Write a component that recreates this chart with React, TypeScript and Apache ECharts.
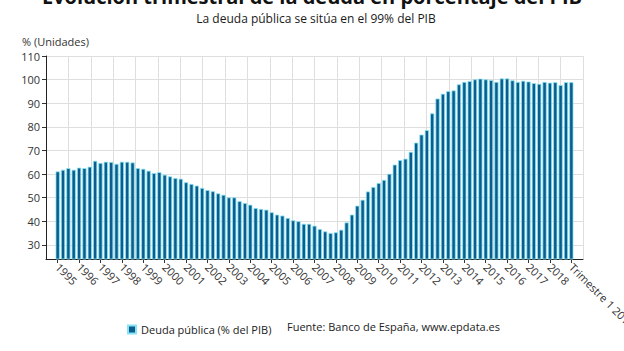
import { useEffect, useRef } from "react";
import * as echarts from "echarts";

const titleText = "Evolución trimestral de la deuda en porcentaje del PIB";
const subtitleText = "La deuda pública se sitúa en el 99% del PIB";
const unitText = "% (Unidades)";
const sourceText = "Fuente: Banco de España, www.epdata.es";
const seriesName = "Deuda pública (% del PIB)";

const yearLabels = [
  "1995", "1996", "1997", "1998", "1999", "2000", "2001", "2002",
  "2003", "2004", "2005", "2006", "2007", "2008", "2009", "2010",
  "2011", "2012", "2013", "2014", "2015", "2016", "2017", "2018",
];
const quarterNames = ["T1", "T2", "T3", "T4"];
const lastCategory = "T1 2019";
const lastPeriodLabel = "Trimestre 1 2019";

const debtValues = [
  61.1, 61.8, 62.5, 61.8, 62.7, 62.5, 63.1, 65.6, 64.7, 65.2, 65.1, 64.3,
  65.2, 65.2, 64.9, 62.5, 62.2, 61.4, 60.4, 60.8, 59.7, 59.0, 58.3, 58.0,
  56.5, 55.8, 55.1, 54.1, 53.2, 52.7, 51.8, 51.2, 50.1, 50.1, 48.5, 47.7,
  47.0, 45.6, 45.2, 44.9, 43.8, 42.8, 42.4, 41.4, 40.4, 40.0, 38.9, 38.9,
  38.1, 36.7, 35.7, 35.0, 35.3, 36.4, 39.5, 42.8, 46.6, 49.1, 52.6, 54.5,
  56.2, 57.5, 60.1, 64.0, 65.9, 66.5, 69.4, 73.3, 76.7, 78.6, 85.7, 92.0,
  94.0, 95.1, 95.4, 98.0, 99.0, 99.4, 100.1, 100.4, 100.1, 99.8, 99.0, 100.5,
  100.5, 99.7, 99.0, 99.5, 99.2, 98.5, 98.2, 99.0, 98.7, 98.9, 97.7, 98.9,
  98.9,
];

const yTickValues = [30, 40, 50, 60, 70, 80, 90, 100, 110];
const yMin = 24;
const yMax = 110;
const verticalDivisions = 24;

const categories: string[] = [];
yearLabels.forEach((y) => quarterNames.forEach((q) => categories.push(`${q} ${y}`)));
categories.push(lastCategory);

const FONT = "'Open Sans', 'Noto Sans', sans-serif";

export default function App() {
  const ref = useRef<HTMLDivElement>(null);
  useEffect(() => {
    if (!ref.current) return;
    const chart = echarts.init(ref.current, undefined, { renderer: "svg" });
    const labelFor = (_v: string, i: number) => {
      if (i === categories.length - 1) return lastPeriodLabel;
      return yearLabels[Math.floor(i / 4)] ?? "";
    };
    chart.setOption({
      animation: false,
      backgroundColor: "#ffffff",
      textStyle: { fontFamily: FONT },
      grid: [
        { left: 55, right: 50, top: 56, bottom: 92, containLabel: false, outerBoundsMode: "none" },
        { left: 46, right: 41, top: 56, bottom: 92, containLabel: false, outerBoundsMode: "none" },
      ],
      xAxis: [
        {
          gridIndex: 0,
          type: "category",
          data: categories,
          boundaryGap: true,
          axisLine: { show: false },
          axisTick: {
            show: true,
            interval: 3,
            alignWithLabel: true,
            length: 4,
            lineStyle: { color: "#333" },
          },
          axisLabel: {
            interval: 3,
            rotate: -45,
            margin: 6,
            fontSize: 11,
            color: "#333",
            fontFamily: FONT,
            formatter: labelFor,
          },
          splitLine: { show: false },
        },
        {
          gridIndex: 1,
          type: "value",
          min: 0,
          max: verticalDivisions,
          interval: 1,
          axisLine: { show: true, lineStyle: { color: "#222", width: 1 } },
          axisTick: { show: false },
          axisLabel: { show: false },
          splitLine: { show: true, lineStyle: { color: "#dedede", width: 1 } },
        },
      ],
      yAxis: [
        { gridIndex: 0, type: "value", min: yMin, max: yMax, show: false },
        {
          gridIndex: 1,
          type: "value",
          min: yMin,
          max: yMax,
          axisLine: { show: true, lineStyle: { color: "#222", width: 1 } },
          axisTick: { show: true, length: 4, customValues: yTickValues, lineStyle: { color: "#333" } },
          axisLabel: {
            customValues: yTickValues,
            fontSize: 11,
            color: "#333",
            margin: 6,
            fontFamily: FONT,
          },
          splitLine: { show: true, lineStyle: { color: "#dedede", width: 1 } },
        },
      ],
      legend: {
        data: [seriesName],
        left: 122,
        top: 319,
        icon: "rect",
        itemWidth: 8,
        itemHeight: 8,
        itemGap: 6,
        textStyle: { fontSize: 11, color: "#222", fontFamily: FONT },
      },
      graphic: [
        {
          type: "text",
          left: "center",
          top: -14,
          style: {
            text: titleText,
            fontSize: 20,
            fontWeight: "bold",
            fill: "#111",
            fontFamily: FONT,
          },
        },
        {
          type: "text",
          x: 316,
          y: 18,
          style: {
            text: subtitleText,
            fontSize: 12,
            fill: "#1a1a1a",
            fontFamily: FONT,
            align: "center",
            verticalAlign: "middle",
          },
        },
        {
          type: "text",
          x: 22,
          y: 41,
          style: {
            text: unitText,
            fontSize: 11,
            fill: "#333",
            fontFamily: FONT,
            align: "left",
            verticalAlign: "middle",
          },
        },
        {
          type: "text",
          x: 287,
          y: 326,
          style: {
            text: sourceText,
            fontSize: 11,
            fill: "#222",
            fontFamily: FONT,
            align: "left",
            verticalAlign: "middle",
          },
        },
      ],
      series: [
        {
          name: seriesName,
          type: "bar",
          xAxisIndex: 0,
          yAxisIndex: 0,
          data: debtValues,
          barWidth: 4.2,
          itemStyle: {
            color: "#0b5d8d",
            borderColor: "#86e3f5",
            borderWidth: 0.8,
          },
        },
      ],
    });
    return () => chart.dispose();
  }, []);
  return (
    <div
      ref={ref}
      style={{ position: "fixed", left: 0, top: 0, width: 624, height: 351 }}
    />
  );
}
